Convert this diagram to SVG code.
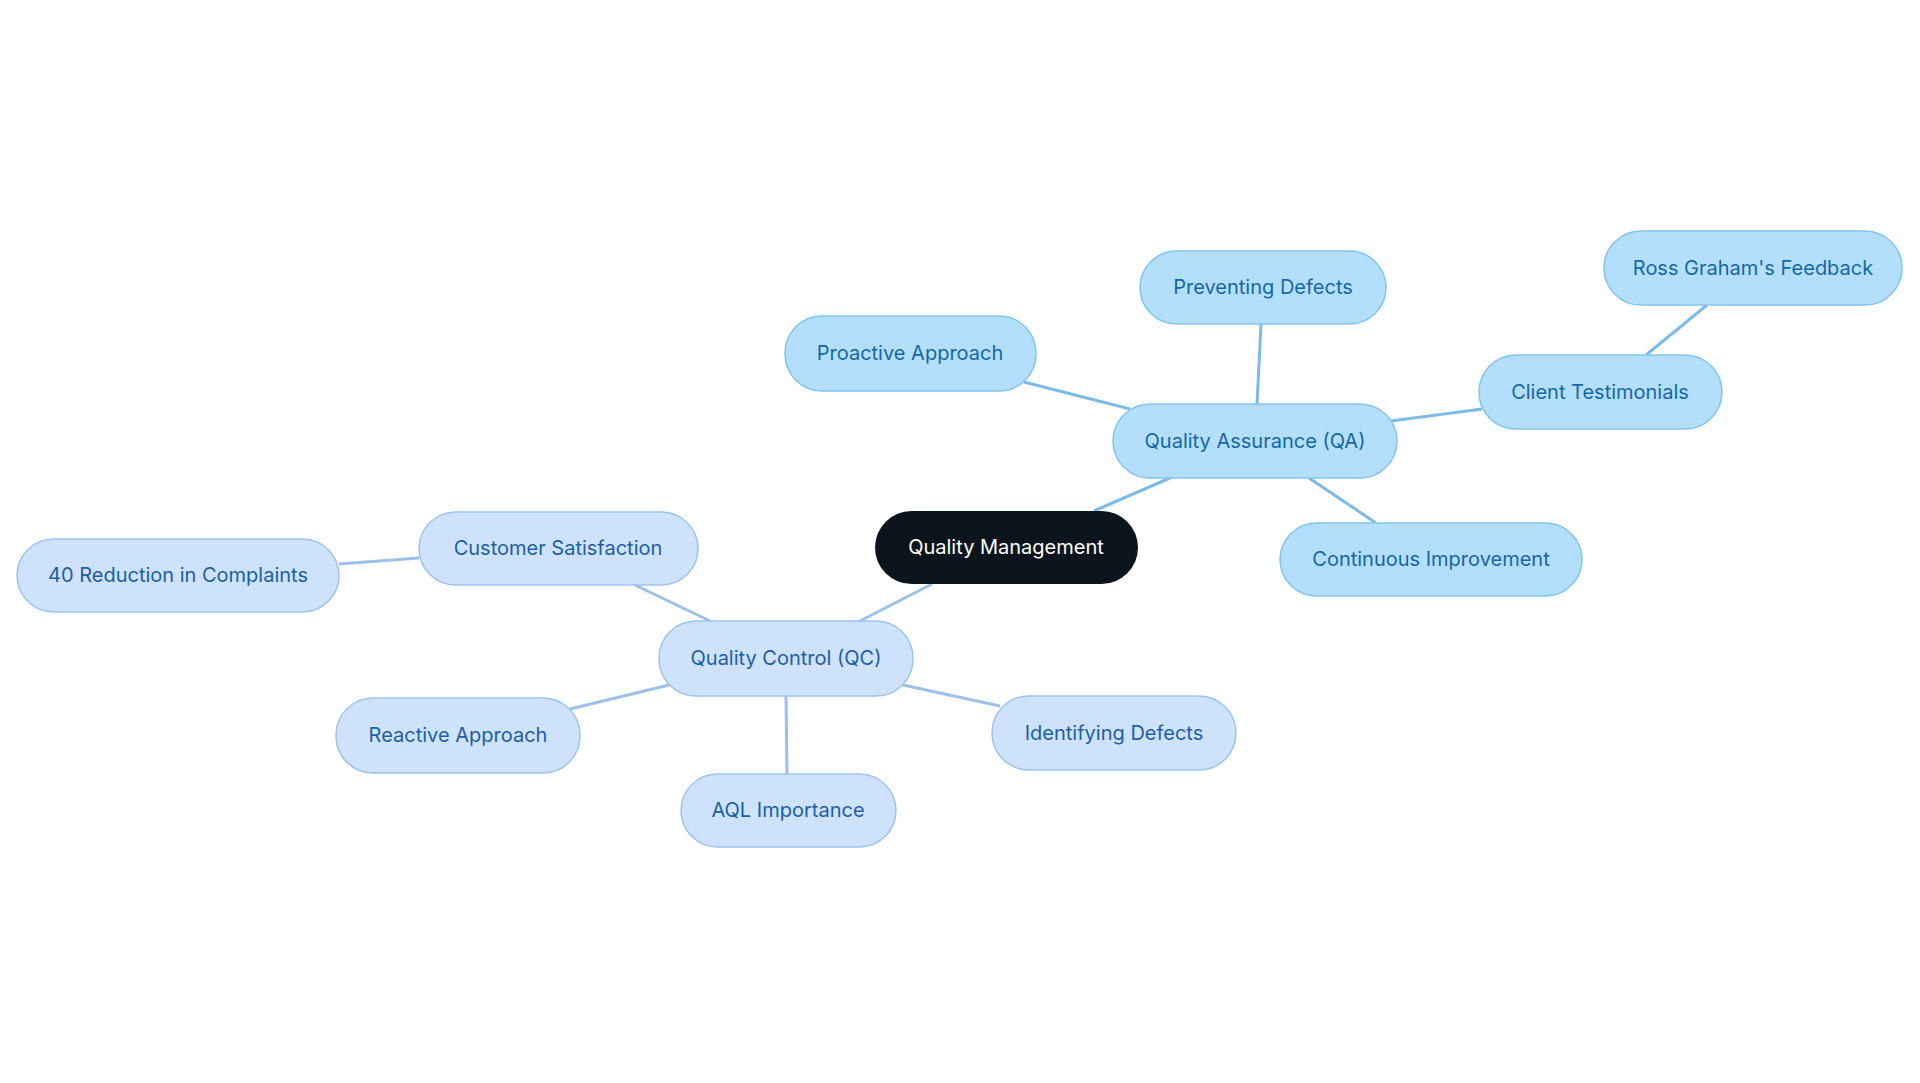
<svg xmlns="http://www.w3.org/2000/svg" width="1920" height="1083" viewBox="0 0 1920 1083">
<style>
text{font-family:Inter,"Open Sans","Liberation Sans",sans-serif;font-size:20px;text-anchor:middle;dominant-baseline:central}
.a rect{fill:#b4dffc;stroke:#82c4ef;stroke-width:1.5}
.a text{fill:#1467a8}
.c rect{fill:#cee3fb;stroke:#9dc3ee;stroke-width:1.5}
.c text{fill:#1d5ea8}
.la{stroke:#7cbbe8;stroke-width:3;fill:none}
.lc{stroke:#9cc0ea;stroke-width:3;fill:none}
</style>
<rect width="1920" height="1083" fill="#fff"/>
<g id="connectors">
<line class="la" x1="1094" y1="511" x2="1170" y2="478"/>
<line class="lc" x1="932" y1="584" x2="860" y2="621"/>
<line class="la" x1="1257" y1="404" x2="1261" y2="324"/>
<line class="la" x1="1130" y1="409" x2="1024" y2="382"/>
<line class="la" x1="1391" y1="421" x2="1482" y2="409"/>
<line class="la" x1="1646" y1="355" x2="1707" y2="305"/>
<line class="la" x1="1309" y1="478" x2="1376" y2="523"/>
<line class="lc" x1="710" y1="621" x2="635" y2="585"/>
<line class="lc" x1="419" y1="558" x2="339" y2="564"/>
<line class="lc" x1="669" y1="685" x2="570" y2="709"/>
<line class="lc" x1="786" y1="696" x2="787" y2="774"/>
<line class="lc" x1="903" y1="685" x2="1000" y2="706"/>
</g>
<g id="qm"><rect x="875" y="511" width="263" height="73" rx="36.5" fill="#0c141c"/><text x="1006" y="547" fill="#fff">Quality Management</text></g>
<g id="qa" class="a"><rect x="1113" y="404" width="284" height="74" rx="37"/><text x="1255" y="441">Quality Assurance (QA)</text></g>
<g id="prev" class="a"><rect x="1140" y="251" width="246" height="73" rx="36.5"/><text x="1263" y="287">Preventing Defects</text></g>
<g id="proactive" class="a"><rect x="785" y="316" width="251" height="75" rx="37"/><text x="910" y="353">Proactive Approach</text></g>
<g id="ct" class="a"><rect x="1479" y="355" width="243" height="74" rx="37"/><text x="1600" y="392">Client Testimonials</text></g>
<g id="ross" class="a"><rect x="1604" y="231" width="298" height="74" rx="37"/><text x="1753" y="268">Ross Graham's Feedback</text></g>
<g id="cont" class="a"><rect x="1280" y="523" width="302" height="73" rx="36.5"/><text x="1431" y="559">Continuous Improvement</text></g>
<g id="qc" class="c"><rect x="659" y="621" width="254" height="75" rx="37"/><text x="786" y="658">Quality Control (QC)</text></g>
<g id="cs" class="c"><rect x="419" y="512" width="279" height="73" rx="36.5"/><text x="558" y="548">Customer Satisfaction</text></g>
<g id="red" class="c"><rect x="17" y="539" width="322" height="73" rx="36.5"/><text x="178" y="575">40 Reduction in Complaints</text></g>
<g id="reactive" class="c"><rect x="336" y="698" width="244" height="75" rx="37"/><text x="458" y="735">Reactive Approach</text></g>
<g id="aql" class="c"><rect x="681" y="774" width="215" height="73" rx="36.5"/><text x="788" y="810">AQL Importance</text></g>
<g id="ident" class="c"><rect x="992" y="696" width="244" height="74" rx="37"/><text x="1114" y="733">Identifying Defects</text></g>
</svg>
